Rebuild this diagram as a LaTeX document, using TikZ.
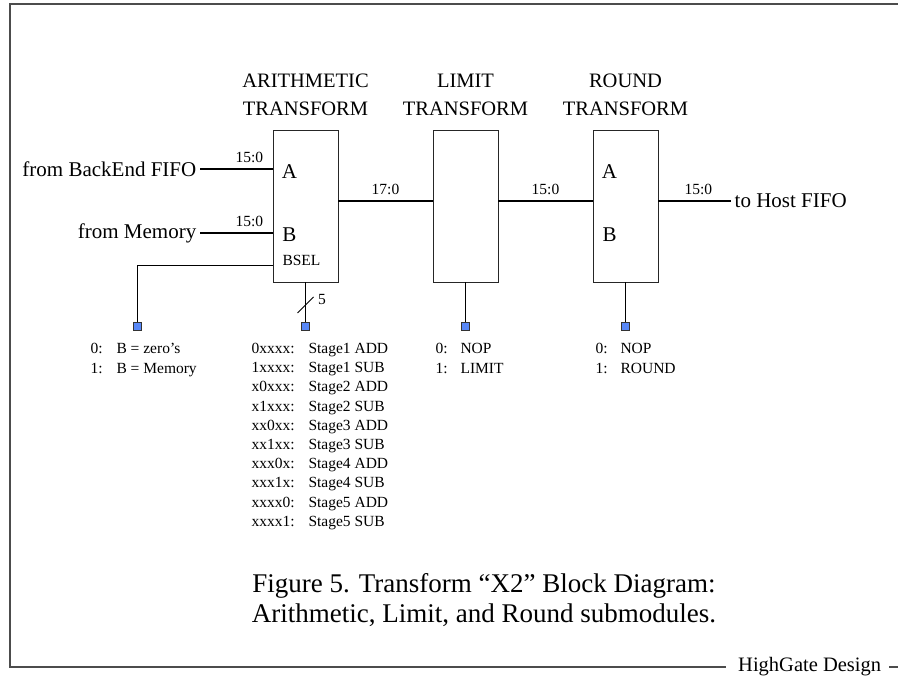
\documentclass[tikz,border=0pt]{standalone}
\usepackage{fontspec}
\setmainfont{Liberation Serif}
\usetikzlibrary{positioning}
\definecolor{pinblue}{RGB}{88,136,248}

\begin{document}
\begin{tikzpicture}[x=1pt,y=-1pt,
  blk/.style={draw=black!85,line width=0.8pt,minimum width=65pt,minimum height=152pt,inner sep=0pt},
  pin/.style={draw=black!80,fill=pinblue,line width=0.6pt,minimum size=8pt,inner sep=0pt},
  bus/.style={line width=1.8pt},
  sig/.style={line width=0.8pt},
  title/.style={font=\fontsize{20.5}{28}\selectfont,align=center},
  big/.style={font=\fontsize{21}{24}\selectfont},
  small/.style={font=\fontsize{15.5}{19}\selectfont},
  captxt/.style={font=\fontsize{27}{30}\selectfont,align=center}]
\useasboundingbox (0,0) rectangle (898,677);
\node[font=\fontsize{20.5}{22}\selectfont,anchor=west,inner sep=0pt] (hg) at (738,667) {HighGate Design};
\draw[black!70,line width=1.5pt] (898,4) -- (10,4) -- (10,667) -- ([xshift=-12pt]hg.west);
\draw[black!70,line width=1.5pt] ([xshift=8pt]hg.east) -- (898,667);

\node[blk] (arith) at (305.5,206) {};
\node[blk] (limit) at (465.5,206) {};
\node[blk] (round) at (625.5,206) {};
\node[title] at (305.5,95) {ARITHMETIC\\TRANSFORM};
\node[title] at (465.5,95) {LIMIT\\TRANSFORM};
\node[title] at (625.5,95) {ROUND\\TRANSFORM};

\node[big,anchor=east,inner sep=3.5pt] (fifo) at (200,169) {from BackEnd FIFO};
\node[big,anchor=east,inner sep=3.5pt] (mem) at (200,233) {from Memory};
\node[big,anchor=west,inner sep=3.5pt] (host) at (731,201) {to Host FIFO};
\coordinate (mid) at (0,201);
\coordinate (bselrow) at (0,265);

\draw[bus] (fifo.east) -- (fifo.east -| arith.west) node[small,pos=0.68,above=2pt] {15:0};
\draw[bus] (mem.east) -- (mem.east -| arith.west) node[small,pos=0.68,above=2pt] {15:0};
\draw[bus] (arith.east |- mid) -- (limit.west |- mid) node[small,midway,above=2pt] {17:0};
\draw[bus] (limit.east |- mid) -- (round.west |- mid) node[small,midway,above=2pt] {15:0};
\draw[bus] (round.east |- mid) -- (host.west) node[small,pos=0.55,above=2pt] {15:0};

\node[big] at (289.5,172) {A};
\node[big] at (289.5,235) {B};
\node[small,anchor=west] at (279,260) {BSEL};
\node[big] at (609.5,172) {A};
\node[big] at (609.5,235) {B};

\node[pin] (selb) at (137.5,326) {};
\node[pin] (selarith) at (305.5,326) {};
\node[pin] (sellimit) at (465.5,326) {};
\node[pin] (selround) at (625.5,326) {};
\draw[sig] (arith.west |- bselrow) -| (selb.north);
\draw[sig] (arith.south) -- (selarith.north);
\draw[sig] (limit.south) -- (sellimit.north);
\draw[sig] (round.south) -- (selround.north);
\coordinate (slash) at (305.5,305);
\draw[sig] ([shift={(-8,8)}]slash) -- ([shift={(8,-8)}]slash);
\node[small] at (322,300) {5};

\node[small,anchor=base west] at (87,353.5) {0:};
\node[small,anchor=base west] at (113,353.5) {B = zero's};
\node[small,anchor=base west] at (87,373) {1:};
\node[small,anchor=base west] at (113,373) {B = Memory};
\foreach \code/\op [count=\i] in {0xxxx/Stage1 ADD,1xxxx/Stage1 SUB,x0xxx/Stage2 ADD,x1xxx/Stage2 SUB,
  xx0xx/Stage3 ADD,xx1xx/Stage3 SUB,xxx0x/Stage4 ADD,xxx1x/Stage4 SUB,xxxx0/Stage5 ADD,xxxx1/Stage5 SUB}
{
  \node[small,anchor=base west] at (248,{353.5+19.2*(\i-1)}) {\code:};
  \node[small,anchor=base west] at (305,{353.5+19.2*(\i-1)}) {\op};
}
\foreach \x/\txt in {432/LIMIT,592/ROUND}
{
  \node[small,anchor=base west] at (\x,353.5) {0:};
  \node[small,anchor=base west] at (\x+25,353.5) {NOP};
  \node[small,anchor=base west] at (\x,373) {1:};
  \node[small,anchor=base west] at (\x+25,373) {\txt};
}

\node[captxt] (caption) at (484,600) {Figure 5. Transform ``X2'' Block Diagram:\\Arithmetic, Limit, and Round submodules.};
\end{tikzpicture}
\end{document}
